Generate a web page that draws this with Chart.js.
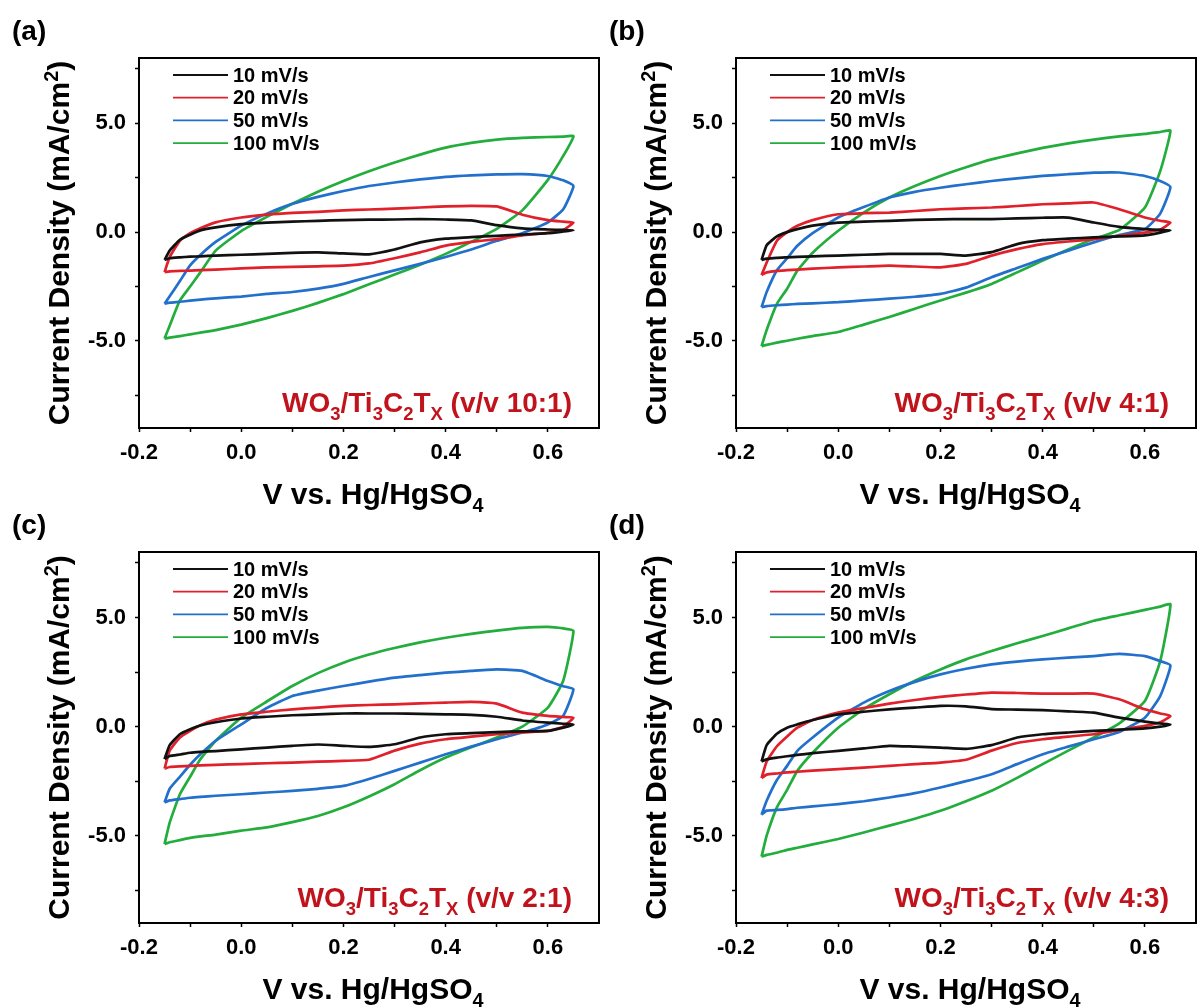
<!DOCTYPE html>
<html>
<head>
<meta charset="utf-8">
<script src="https://cdn.jsdelivr.net/npm/chart.js@4.4.0/dist/chart.umd.min.js"></script>
<style>
  html, body { margin: 0; padding: 0; background: #fff; }
  #page { position: relative; width: 1198px; height: 1008px; overflow: hidden; background: #fff; }
  #page canvas { position: absolute; }
</style>
</head>
<body>
<div id="page">
  <canvas id="chartA" width="600" height="514" style="left:0;top:0"></canvas>
  <canvas id="chartB" width="600" height="514" style="left:598px;top:0"></canvas>
  <canvas id="chartC" width="600" height="514" style="left:0;top:494px"></canvas>
  <canvas id="chartD" width="600" height="514" style="left:598px;top:494px"></canvas>
</div>
<script>
// potential grid (V vs. Hg/HgSO4), shared by both sweep directions
const voltage = [-0.15, -0.14, -0.12, -0.10, -0.08, -0.05, 0.00, 0.05, 0.10, 0.15, 0.20,
                 0.25, 0.30, 0.35, 0.40, 0.45, 0.50, 0.55, 0.60, 0.63, 0.65];
const scanRates = ["10 mV/s", "20 mV/s", "50 mV/s", "100 mV/s"];

const xTickValues = [-0.2, -0.1, 0.0, 0.1, 0.2, 0.3, 0.4, 0.5, 0.6];
const xTickLabels = ["-0.2", "", "0.0", "", "0.2", "", "0.4", "", "0.6"];
const yTickValues = [-7.5, -5, -2.5, 0, 2.5, 5, 7.5];
const yTickLabels = ["", "-5.0", "", "0.0", "", "5.0", ""];

// (a) v/v 10:1 — anodic (up) / cathodic (down) current density, mA/cm2
const aUp10 = [-1.28, -0.85, -0.35, -0.12, 0.08, 0.22, 0.37, 0.44, 0.48, 0.52, 0.55, 0.57, 0.58, 0.60, 0.58, 0.54, 0.32, 0.17, 0.12, 0.10, 0.09];
const aDown10 = [-1.28, -1.20, -1.16, -1.13, -1.11, -1.08, -1.04, -1.00, -0.95, -0.93, -0.98, -1.02, -0.80, -0.47, -0.30, -0.23, -0.17, -0.11, -0.05, 0.03, 0.09];
const aUp20 = [-1.84, -1.15, -0.40, -0.05, 0.18, 0.45, 0.67, 0.80, 0.88, 0.93, 1.00, 1.04, 1.08, 1.13, 1.18, 1.21, 1.18, 0.80, 0.55, 0.48, 0.44];
const aDown20 = [-1.84, -1.80, -1.78, -1.77, -1.75, -1.72, -1.67, -1.62, -1.60, -1.57, -1.54, -1.44, -1.20, -0.93, -0.62, -0.45, -0.32, -0.15, -0.03, 0.10, 0.44];
const aUp50 = [-3.29, -2.95, -2.25, -1.53, -1.05, -0.45, 0.30, 0.85, 1.30, 1.62, 1.89, 2.12, 2.28, 2.42, 2.54, 2.61, 2.65, 2.66, 2.58, 2.38, 2.12];
const aDown50 = [-3.29, -3.24, -3.20, -3.15, -3.10, -3.04, -2.96, -2.84, -2.75, -2.60, -2.38, -2.06, -1.76, -1.46, -1.14, -0.80, -0.40, -0.05, 0.45, 1.05, 2.12];
const aUp100 = [-4.89, -4.30, -3.14, -2.50, -1.85, -0.85, 0.05, 0.70, 1.30, 1.85, 2.35, 2.80, 3.20, 3.56, 3.88, 4.10, 4.25, 4.33, 4.37, 4.39, 4.41];
const aDown100 = [-4.89, -4.85, -4.78, -4.70, -4.62, -4.50, -4.25, -3.95, -3.62, -3.25, -2.85, -2.40, -1.95, -1.50, -1.00, -0.45, 0.15, 1.00, 2.40, 3.50, 4.41];

// (b) v/v 4:1
const bUp10 = [-1.28, -0.60, -0.20, 0.00, 0.14, 0.30, 0.44, 0.48, 0.52, 0.56, 0.59, 0.60, 0.60, 0.63, 0.66, 0.67, 0.44, 0.24, 0.14, 0.10, 0.09];
const bDown10 = [-1.28, -1.22, -1.18, -1.16, -1.14, -1.11, -1.08, -1.04, -1.00, -1.00, -1.00, -1.08, -0.92, -0.55, -0.37, -0.30, -0.24, -0.20, -0.15, -0.02, 0.09];
const bUp20 = [-1.97, -1.40, -0.40, 0.00, 0.29, 0.55, 0.82, 0.87, 0.90, 0.97, 1.05, 1.09, 1.13, 1.20, 1.28, 1.32, 1.36, 1.05, 0.67, 0.52, 0.44];
const bDown20 = [-1.97, -1.85, -1.78, -1.75, -1.72, -1.68, -1.62, -1.58, -1.54, -1.58, -1.62, -1.46, -1.08, -0.78, -0.55, -0.43, -0.32, -0.17, -0.02, 0.12, 0.44];
const bUp50 = [-3.45, -2.75, -1.75, -1.20, -0.63, -0.05, 0.67, 1.15, 1.59, 1.85, 2.04, 2.20, 2.35, 2.47, 2.58, 2.66, 2.73, 2.74, 2.58, 2.35, 2.07];
const bDown50 = [-3.45, -3.40, -3.36, -3.33, -3.30, -3.27, -3.22, -3.14, -3.06, -2.97, -2.84, -2.55, -2.07, -1.65, -1.23, -0.85, -0.47, -0.13, 0.14, 0.85, 2.07];
const bUp100 = [-5.24, -4.50, -3.30, -2.60, -1.77, -0.95, 0.06, 0.90, 1.59, 2.12, 2.58, 2.98, 3.34, 3.62, 3.87, 4.08, 4.25, 4.40, 4.51, 4.60, 4.66];
const bDown100 = [-5.24, -5.18, -5.08, -4.99, -4.90, -4.78, -4.59, -4.25, -3.90, -3.52, -3.14, -2.78, -2.38, -1.85, -1.31, -0.80, -0.32, 0.10, 1.13, 2.80, 4.66];

// (c) v/v 2:1
const cUp10 = [-1.49, -0.85, -0.35, -0.12, 0.05, 0.20, 0.37, 0.45, 0.52, 0.56, 0.60, 0.60, 0.60, 0.58, 0.56, 0.54, 0.45, 0.28, 0.18, 0.13, 0.10];
const cDown10 = [-1.49, -1.35, -1.28, -1.20, -1.16, -1.12, -1.04, -0.96, -0.88, -0.82, -0.88, -0.93, -0.81, -0.50, -0.35, -0.30, -0.25, -0.22, -0.20, -0.05, 0.10];
const cUp20 = [-1.93, -1.10, -0.50, -0.20, 0.06, 0.32, 0.56, 0.68, 0.79, 0.87, 0.95, 0.99, 1.02, 1.06, 1.10, 1.13, 1.05, 0.64, 0.49, 0.44, 0.41];
const cDown20 = [-1.93, -1.85, -1.82, -1.80, -1.78, -1.75, -1.72, -1.68, -1.65, -1.61, -1.57, -1.52, -1.10, -0.78, -0.58, -0.46, -0.35, -0.27, -0.20, 0.00, 0.41];
const cUp50 = [-3.48, -2.85, -2.30, -1.75, -1.27, -0.65, 0.10, 0.85, 1.40, 1.65, 1.86, 2.06, 2.24, 2.36, 2.47, 2.55, 2.62, 2.55, 2.09, 1.85, 1.71];
const cDown50 = [-3.48, -3.38, -3.32, -3.26, -3.22, -3.17, -3.10, -3.02, -2.95, -2.85, -2.72, -2.40, -2.03, -1.65, -1.27, -0.92, -0.58, -0.27, 0.10, 0.50, 1.71];
const cUp100 = [-5.38, -4.40, -3.10, -2.30, -1.50, -0.65, 0.41, 1.15, 1.86, 2.45, 2.93, 3.30, 3.60, 3.86, 4.07, 4.25, 4.40, 4.52, 4.57, 4.50, 4.39];
const cDown100 = [-5.38, -5.30, -5.20, -5.10, -5.03, -4.95, -4.77, -4.62, -4.38, -4.10, -3.70, -3.20, -2.64, -2.00, -1.42, -0.95, -0.50, 0.00, 0.87, 2.10, 4.39];

// (d) v/v 4:3
const dUp10 = [-1.60, -0.85, -0.33, -0.05, 0.10, 0.30, 0.56, 0.68, 0.79, 0.87, 0.95, 0.93, 0.80, 0.78, 0.75, 0.70, 0.64, 0.41, 0.23, 0.14, 0.10];
const dDown10 = [-1.60, -1.50, -1.42, -1.36, -1.30, -1.22, -1.11, -1.00, -0.88, -0.92, -0.96, -1.02, -0.85, -0.50, -0.35, -0.27, -0.20, -0.14, -0.08, 0.00, 0.10];
const dUp20 = [-2.36, -1.60, -0.90, -0.45, -0.05, 0.30, 0.64, 0.85, 1.05, 1.22, 1.36, 1.47, 1.56, 1.54, 1.51, 1.51, 1.51, 1.25, 0.79, 0.60, 0.49];
const dDown20 = [-2.36, -2.20, -2.15, -2.10, -2.07, -2.02, -1.95, -1.88, -1.80, -1.72, -1.65, -1.52, -1.10, -0.75, -0.58, -0.46, -0.35, -0.16, 0.03, 0.20, 0.49];
const dUp50 = [-4.04, -3.40, -2.45, -1.80, -1.11, -0.50, 0.41, 1.10, 1.63, 2.05, 2.39, 2.65, 2.85, 2.98, 3.08, 3.16, 3.23, 3.33, 3.23, 3.00, 2.80];
const dDown50 = [-4.04, -3.85, -3.82, -3.78, -3.72, -3.66, -3.55, -3.42, -3.25, -3.05, -2.79, -2.50, -2.18, -1.72, -1.27, -0.92, -0.58, -0.25, 0.41, 1.40, 2.80];
const dUp100 = [-5.96, -5.00, -3.70, -2.90, -2.03, -1.20, -0.05, 0.80, 1.48, 2.10, 2.62, 3.08, 3.46, 3.82, 4.15, 4.50, 4.85, 5.10, 5.35, 5.50, 5.60];
const dDown100 = [-5.96, -5.88, -5.78, -5.65, -5.55, -5.40, -5.15, -4.85, -4.54, -4.22, -3.86, -3.42, -2.94, -2.35, -1.72, -1.10, -0.50, 0.15, 1.17, 3.00, 5.60];

const lineColors = ["#111111", "#e0202a", "#2270cc", "#22ad3c"];
const FONT = "'Liberation Sans', Arial, sans-serif";

// forward sweep then reverse sweep, one closed loop
function cvLoop(up, down) {
  const pts = voltage.map((v, i) => ({ x: v, y: up[i] }));
  for (let i = voltage.length - 2; i >= 0; i--) pts.push({ x: voltage[i], y: down[i] });
  return pts;
}

// draw text with sub/superscripts: parts = [[text, "sub"|"sup"|null], ...]
function drawRich(ctx, parts, x, y, size, align) {
  const small = size * 0.66;
  const widths = parts.map(([t, mode]) => {
    ctx.font = `bold ${mode ? small : size}px ${FONT}`;
    return ctx.measureText(t).width;
  });
  const total = widths.reduce((s, w) => s + w, 0);
  let cx = align === "right" ? x - total : align === "center" ? x - total / 2 : x;
  ctx.textAlign = "left";
  ctx.textBaseline = "alphabetic";
  parts.forEach(([t, mode], i) => {
    ctx.font = `bold ${mode ? small : size}px ${FONT}`;
    const dy = mode === "sub" ? size * 0.27 : mode === "sup" ? -size * 0.38 : 0;
    ctx.fillText(t, cx, y + dy);
    cx += widths[i];
  });
}

const decorPlugin = {
  id: "decor",
  afterDraw(chart, args, opts) {
    const { ctx, chartArea: ca } = chart;
    ctx.save();
    // frame
    ctx.strokeStyle = "#000";
    ctx.lineWidth = 2;
    ctx.strokeRect(ca.left, ca.top, ca.right - ca.left, ca.bottom - ca.top);

    ctx.fillStyle = "#000";
    // panel letter
    ctx.font = `bold 28px ${FONT}`;
    ctx.textAlign = "left";
    ctx.textBaseline = "middle";
    ctx.fillText(opts.letter, ca.left - 127, ca.top - 26);

    // y title
    ctx.save();
    ctx.translate(ca.left - 70, (ca.top + ca.bottom) / 2);
    ctx.rotate(-Math.PI / 2);
    drawRich(ctx, [["Current Density (mA/cm", null], ["2", "sup"], [")", null]], 0, 0, 30, "center");
    ctx.restore();

    // x title
    drawRich(ctx, [["V vs. Hg/HgSO", null], ["4", "sub"]], (ca.left + ca.right) / 2 + 4, ca.bottom + 76, 30, "center");

    // legend
    scanRates.forEach((name, k) => {
      const y = ca.top + 17 + k * 22.7;
      ctx.strokeStyle = lineColors[k];
      ctx.lineWidth = 1.8;
      ctx.beginPath();
      ctx.moveTo(ca.left + 34, y);
      ctx.lineTo(ca.left + 89, y);
      ctx.stroke();
      ctx.fillStyle = "#000";
      ctx.font = `bold 20px ${FONT}`;
      ctx.textAlign = "left";
      ctx.textBaseline = "middle";
      ctx.fillText(name, ca.left + 94, y + 1);
    });

    // sample annotation
    ctx.fillStyle = "#c0131c";
    drawRich(ctx, [["WO", null], ["3", "sub"], ["/Ti", null], ["3", "sub"], ["C", null], ["2", "sub"],
                   ["T", null], ["X", "sub"], [` (v/v ${opts.ratio})`, null]],
             ca.right - 27, ca.bottom - 16, 28, "right");
    ctx.restore();
  }
};

function makePanel(id, letter, ratio, loops, geom) {
  const tickFont = { family: FONT, size: 22, weight: "bold" };
  new Chart(document.getElementById(id), {
    type: "scatter",
    data: {
      datasets: loops.map((l, k) => ({
        label: scanRates[k],
        data: cvLoop(l[0], l[1]),
        showLine: true,
        borderColor: lineColors[k],
        borderWidth: 2.7,
        pointRadius: 0,
        fill: false,
        tension: 0.15
      }))
    },
    options: {
      responsive: false,
      animation: false,
      devicePixelRatio: 1,
      layout: { padding: { top: 58, right: geom.right, left: 0, bottom: 0 } },
      plugins: {
        legend: { display: false },
        tooltip: { enabled: false },
        decor: { letter: letter, ratio: ratio }
      },
      scales: {
        x: {
          type: "linear",
          min: -0.2,
          max: 0.7,
          afterBuildTicks: sc => { sc.ticks = xTickValues.map(v => ({ value: v })); },
          afterFit: sc => { sc.height = geom.xh; },
          ticks: { callback: (v, i) => xTickLabels[i], font: tickFont, color: "#000", padding: 8, maxRotation: 0, autoSkip: false },
          grid: { drawOnChartArea: false, drawTicks: true, tickLength: 4, tickWidth: 1.5, color: "#000" },
          border: { display: true, color: "#000", width: 2 }
        },
        y: {
          type: "linear",
          min: -9,
          max: 8,
          afterBuildTicks: sc => { sc.ticks = yTickValues.map(v => ({ value: v })); },
          afterFit: sc => { sc.width = geom.yw; },
          ticks: { callback: (v, i) => yTickLabels[i], font: tickFont, color: "#000", padding: 9, autoSkip: false },
          grid: { drawOnChartArea: false, drawTicks: true, tickLength: 4, tickWidth: 1.5, color: "#000" },
          border: { display: true, color: "#000", width: 2 }
        }
      }
    },
    plugins: [decorPlugin]
  });
}

makePanel("chartA", "(a)", "10:1", [[aUp10, aDown10], [aUp20, aDown20], [aUp50, aDown50], [aUp100, aDown100]], { yw: 139, right: 1, xh: 86 });
makePanel("chartB", "(b)", "4:1", [[bUp10, bDown10], [bUp20, bDown20], [bUp50, bDown50], [bUp100, bDown100]], { yw: 138, right: 2, xh: 86 });
makePanel("chartC", "(c)", "2:1", [[cUp10, cDown10], [cUp20, cDown20], [cUp50, cDown50], [cUp100, cDown100]], { yw: 139, right: 1, xh: 85 });
makePanel("chartD", "(d)", "4:3", [[dUp10, dDown10], [dUp20, dDown20], [dUp50, dDown50], [dUp100, dDown100]], { yw: 138, right: 2, xh: 85 });
</script>
</body>
</html>
